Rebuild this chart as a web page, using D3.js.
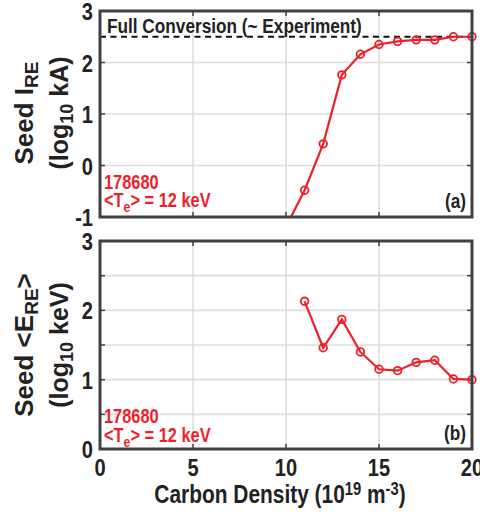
<!DOCTYPE html>
<html><head><meta charset="utf-8">
<script src="https://cdn.jsdelivr.net/npm/d3@7"></script>
<style>
html,body{margin:0;padding:0;background:#fff;}
text{font-family:"Liberation Sans",Arial,Helvetica,sans-serif;}
</style></head>
<body>
<svg id="chart" width="480" height="512"></svg>
<script>
// ---- data ----
const carbonA = [10, 11, 12, 13, 14, 15, 16, 17, 18, 19, 20];
const seedIRE = [-1.19, -0.48, 0.42, 1.76, 2.16, 2.35, 2.41, 2.44, 2.44, 2.50, 2.50];
const carbonB = [11, 12, 13, 14, 15, 16, 17, 18, 19, 20];
const seedERE = [2.13, 1.46, 1.87, 1.40, 1.15, 1.13, 1.25, 1.28, 1.01, 1.00];
const fullConversion = 2.5;
const xTicks = [0, 5, 10, 15, 20];
const yTicksA = [-1, 0, 1, 2, 3];
const yTicksB = [0, 0.5, 1, 1.5, 2, 2.5, 3];
const yLabelsB = [0, 1, 2, 3];
const shot = "178680";

const svg = d3.select("#chart");
const L = 100, R = 472;
const SX = 0.82; // horizontal condensing of text
const red = "#ee1f2b", frame = "#404040", grid = "#dedede", ink = "#222";
const x = d3.scaleLinear().domain([0, 20]).range([L, R]);

function ctext(parent, px, py, size, anchor, fill) {
  return parent.append("g").attr("transform", `translate(${px},${py}) scale(${SX},1)`)
    .append("text").attr("text-anchor", anchor).attr("font-size", size)
    .attr("font-weight", "bold").attr("fill", fill);
}

function panel(id, top, bottom, yDomain, yTicks, yLabels, xs, ys, tag, showX, ann) {
  const y = d3.scaleLinear().domain(yDomain).range([bottom, top]);
  const g = svg.append("g");
  g.selectAll(".gx").data(xTicks.slice(1, -1)).join("line")
    .attr("x1", d => x(d)).attr("x2", d => x(d)).attr("y1", top).attr("y2", bottom)
    .attr("stroke", grid).attr("stroke-width", 1.6);
  g.selectAll(".gy").data(yTicks.filter(d => d > yDomain[0] && d < yDomain[1])).join("line")
    .attr("x1", L).attr("x2", R).attr("y1", d => y(d)).attr("y2", d => y(d))
    .attr("stroke", grid).attr("stroke-width", 1.6);
  svg.append("clipPath").attr("id", id).append("rect")
    .attr("x", L).attr("y", top).attr("width", R - L).attr("height", bottom - top);
  if (tag === "(a)") {
    g.append("line").attr("x1", L).attr("x2", R)
      .attr("y1", y(fullConversion)).attr("y2", y(fullConversion))
      .attr("stroke", "#111").attr("stroke-width", 1.8).attr("stroke-dasharray", "6,4.5");
    ctext(g, L + 7, top + 22, 21, "start", ink).text("Full Conversion (~ Experiment)");
  }
  const tl = 5;
  xTicks.forEach(d => {
    g.append("line").attr("x1", x(d)).attr("x2", x(d)).attr("y1", bottom).attr("y2", bottom - tl).attr("stroke", frame).attr("stroke-width", 1.5);
    g.append("line").attr("x1", x(d)).attr("x2", x(d)).attr("y1", top).attr("y2", top + tl).attr("stroke", frame).attr("stroke-width", 1.5);
  });
  yTicks.forEach(d => {
    g.append("line").attr("x1", L).attr("x2", L + tl).attr("y1", y(d)).attr("y2", y(d)).attr("stroke", frame).attr("stroke-width", 1.5);
    g.append("line").attr("x1", R).attr("x2", R - tl).attr("y1", y(d)).attr("y2", y(d)).attr("stroke", frame).attr("stroke-width", 1.5);
  });
  yLabels.forEach(d => {
    ctext(g, L - 7, y(d) + 9, 24.5, "end", ink).text(d);
  });
  if (showX) {
    xTicks.forEach(d => {
      ctext(g, x(d), bottom + 27, 24.5, "middle", ink).text(d);
    });
  }
  const pts = xs.map((d, i) => [d, ys[i]]);
  g.append("path").datum(pts).attr("clip-path", `url(#${id})`)
    .attr("d", d3.line().x(d => x(d[0])).y(d => y(d[1])))
    .attr("fill", "none").attr("stroke", red).attr("stroke-width", 2.2);
  g.selectAll(".pt").data(pts.filter(d => d[1] >= yDomain[0] && d[1] <= yDomain[1])).join("circle")
    .attr("cx", d => x(d[0])).attr("cy", d => y(d[1])).attr("r", 3.8)
    .attr("fill", "none").attr("stroke", red).attr("stroke-width", 1.8);
  g.append("rect").attr("x", L).attr("y", top).attr("width", R - L).attr("height", bottom - top)
    .attr("fill", "none").attr("stroke", frame).attr("stroke-width", 3);
  ctext(g, L + 4, bottom - ann[0], 20, "start", red).text(shot);
  const t2 = ctext(g, L + 4, bottom - ann[1], 20, "start", red);
  t2.append("tspan").text("<T");
  t2.append("tspan").attr("font-size", 15).attr("dy", 5).text("e");
  t2.append("tspan").attr("dy", -5).text("> = 12 keV");
  ctext(g, R - 6, bottom - 9, 21, "end", ink).text(tag);
  return y;
}

panel("clipA", 11, 217, [-1, 3], yTicksA, yTicksA, carbonA, seedIRE, "(a)", false, [28, 10]);
panel("clipB", 241, 449, [0, 3], yTicksB, yLabelsB, carbonB, seedERE, "(b)", true, [26, 7]);

function yTitle(cy, main, sub, tail, unitSub, unitTail) {
  const g = svg.append("g").attr("transform", `translate(0,${cy}) rotate(-90)`);
  const a = g.append("text").attr("x", 0).attr("y", 33).attr("text-anchor", "middle")
    .attr("font-size", 26).attr("font-weight", "bold").attr("fill", ink);
  a.append("tspan").text(main);
  a.append("tspan").attr("font-size", 19).attr("dy", 5).text(sub);
  a.append("tspan").attr("dy", -5).text(tail);
  const b = g.append("text").attr("x", 0).attr("y", 68).attr("text-anchor", "middle")
    .attr("font-size", 25).attr("font-weight", "bold").attr("fill", ink);
  b.append("tspan").text("(log");
  b.append("tspan").attr("font-size", 18).attr("dy", 5).text(unitSub);
  b.append("tspan").attr("dy", -5).text(unitTail);
}
yTitle(113, "Seed I", "RE", "", "10", " kA)");
yTitle(345, "Seed <E", "RE", ">", "10", " keV)");

const xt = ctext(svg, 280, 503, 25.5, "middle", ink);
xt.append("tspan").text("Carbon Density (10");
xt.append("tspan").attr("font-size", 18).attr("dy", -8).text("19");
xt.append("tspan").attr("dy", 8).text(" m");
xt.append("tspan").attr("font-size", 18).attr("dy", -8).text("-3");
xt.append("tspan").attr("dy", 8).text(")");
</script>
</body></html>
